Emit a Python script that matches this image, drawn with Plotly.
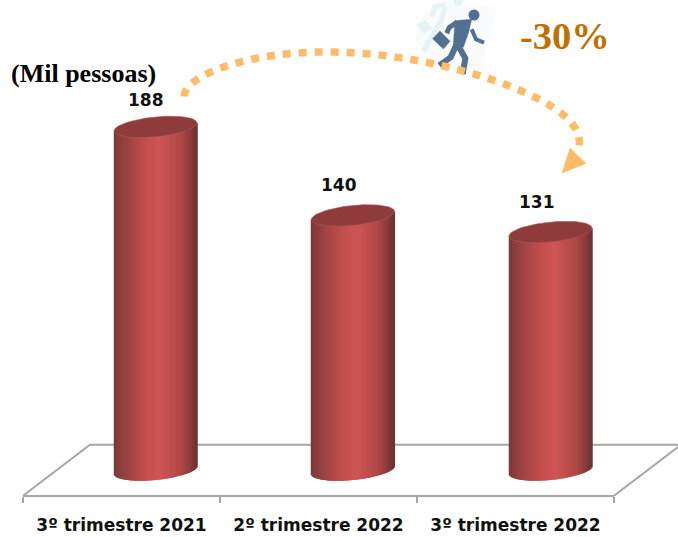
import numpy as np
import plotly.graph_objects as go

categories = ["3º trimestre 2021", "2º trimestre 2022", "3º trimestre 2022"]
values = [188, 140, 131]
unit_label = "(Mil pessoas)"
change_label = "-30%"

W, H = 678, 537
RED_STOPS = [(0.0, (122, 56, 56)), (0.12, (150, 64, 64)), (0.38, (194, 78, 78)), (0.55, (206, 85, 85)),
             (0.8, (178, 72, 72)), (0.92, (140, 60, 60)), (1.0, (104, 50, 50))]
LABEL_DX = [-10, -14, -14]
LABEL_DY = [27, 30, 30]


def px(x):
    return x / W


def py(y):
    return 1 - y / H


def path(points, close=False):
    s = "M " + " L ".join(f"{px(x):.5f},{py(y):.5f}" for x, y in points)
    return s + (" Z" if close else "")


def red(t):
    ts = [s[0] for s in RED_STOPS]
    c = [np.interp(t, ts, [s[1][k] for s in RED_STOPS]) for k in range(3)]
    return f"rgb({c[0]:.0f},{c[1]:.0f},{c[2]:.0f})"


PX_PER_UNIT = 1.844
ZERO_PX = 473.6
BAR_WIDTH = 0.42
STRIPS = 83
MINOR = 10.0 / PX_PER_UNIT
SHEAR = 4.0 / PX_PER_UNIT
FOOT = 3.6 / PX_PER_UNIT

fig = go.Figure()

# cylinder bodies: narrow overlaid bars, shaded across the width
step = BAR_WIDTH / STRIPS
for i in range(STRIPS):
    left = -BAR_WIDTH / 2 + i * step
    u = (i + 0.5) / STRIPS * 2 - 1
    base = FOOT - MINOR * np.sqrt(1 - u * u) + SHEAR * u
    tops = [v + SHEAR * u for v in values]
    fig.add_trace(go.Bar(
        x=[0, 1, 2], y=[t - base for t in tops], base=base,
        width=step * 1.6, offset=left,
        marker=dict(color=red((i + 0.5) / STRIPS), line=dict(width=0)),
        xaxis="x2", yaxis="y", showlegend=False, hoverinfo="skip"))

# cylinder tops
theta = np.linspace(0, 2 * np.pi, 80)
for idx, v in enumerate(values):
    fig.add_trace(go.Scatter(
        x=idx + BAR_WIDTH / 2 * np.cos(theta),
        y=v + MINOR * np.sin(theta) + SHEAR * np.cos(theta),
        mode="lines", fill="toself", fillcolor="#8f3b3b",
        line=dict(width=0.6, color="#a85a5a"),
        xaxis="x2", yaxis="y", showlegend=False, hoverinfo="skip"))

# invisible trace that keeps the category axis alive
fig.add_trace(go.Scatter(x=categories, y=values, mode="markers", marker=dict(opacity=0, size=1),
                         xaxis="x", yaxis="y", showlegend=False, hoverinfo="skip"))

annotations = [
    dict(x=i, y=v, xref="x2", yref="y", text=str(v), showarrow=False,
         xshift=LABEL_DX[i], yshift=LABEL_DY[i], xanchor="center", yanchor="middle",
         font=dict(family="DejaVu Sans", size=17, color="#111111", weight="bold"))
    for i, v in enumerate(values)
]
annotations += [
    dict(x=px(83), y=py(73), xref="paper", yref="paper", text=unit_label, showarrow=False,
         xanchor="center", yanchor="middle",
         font=dict(family="Liberation Serif", size=26, color="#000000", weight="bold")),
    dict(x=px(565), y=py(36), xref="paper", yref="paper", text=change_label, showarrow=False,
         xanchor="center", yanchor="middle",
         font=dict(family="Liberation Serif", size=38.5, color="#C07000", weight="bold")),
]

GREY = "#a6a6a6"
shapes = [
    dict(type="path", path=path([(23, 495.7), (90, 444.8), (678, 444.8)]), xref="paper", yref="paper",
         line=dict(color=GREY, width=2), layer="below"),
    dict(type="path", path=path([(614, 495.7), (678, 447)]), xref="paper", yref="paper",
         line=dict(color=GREY, width=2), layer="below"),
]

# runner icon
BLUE = "#52708f"
PALE = "#e4f3f6"


def z(pts):
    return [(400 + x / 3, y / 3) for x, y in pts]


def stroke(pts, color, width):
    return dict(type="path", path=path(z(pts)), xref="paper", yref="paper",
                line=dict(color=color, width=width), fillcolor="rgba(0,0,0,0)")


def solid(pts, color):
    return dict(type="path", path=path(z(pts), True), xref="paper", yref="paper",
                line=dict(color=color, width=0.5), fillcolor=color)


def disc(cx, cy, r, color):
    x, y = 400 + cx / 3, cy / 3
    return dict(type="circle", x0=px(x - r), x1=px(x + r), y0=py(y + r), y1=py(y - r),
                xref="paper", yref="paper", fillcolor=color, line=dict(width=0))


shapes += [
    solid([(50, 70), (120, 0), (290, 25), (240, 210), (190, 235), (50, 130)], "#fafbfc"),
    disc(175, 3, 5, PALE),
    stroke([(135, 15), (105, 20), (95, 50)], PALE, 5),
    stroke([(135, 20), (125, 60), (100, 100), (70, 155)], PALE, 5),
    solid([(50, 75), (75, 60), (95, 85), (72, 100)], PALE),
    disc(222, 45, 5.5, BLUE),
    solid([(165, 62), (215, 58), (205, 100), (190, 142), (160, 136)], BLUE),
    stroke([(172, 66), (148, 82), (140, 100)], BLUE, 5),
    stroke([(215, 88), (228, 118), (252, 128)], BLUE, 4),
    stroke([(170, 132), (152, 172), (118, 196)], BLUE, 6),
    stroke([(175, 138), (196, 175), (188, 222)], BLUE, 6),
    solid([(98, 116), (120, 93), (150, 124), (130, 147)], BLUE),
]

# decline arc and arrow head
ORANGE = "#FFBB66"
arc = [(184, 96), (196, 82), (225, 66), (255, 57), (304, 53), (352, 54), (401, 58), (446, 66), (493, 80),
       (537, 97), (563, 116), (574, 128), (580, 146)]
t = np.arange(len(arc))
tt = np.linspace(0, len(arc) - 1, 160)
ax, ay = zip(*arc)
# smooth the hand-placed guide points
cx = np.polyval(np.polyfit(t, ax, 6), tt)
cy = np.polyval(np.polyfit(t, ay, 6), tt)
shapes += [
    dict(type="path", path=path(list(zip(cx, cy))), xref="paper", yref="paper",
         line=dict(color=ORANGE, width=7.5, dash="8px,8px"), fillcolor="rgba(0,0,0,0)"),
    dict(type="path", path=path([(570, 148), (586, 163.5), (562, 173)], True), xref="paper", yref="paper",
         line=dict(color=ORANGE, width=0.5), fillcolor=ORANGE),
]

fig.update_layout(
    width=W, height=H, margin=dict(l=0, r=0, t=0, b=0, autoexpand=False), autosize=False,
    paper_bgcolor="white", plot_bgcolor="rgba(0,0,0,0)", barmode="overlay", showlegend=False,
    shapes=shapes, annotations=annotations,
    xaxis=dict(type="category", categoryorder="array", categoryarray=categories, range=[-0.5, 2.5],
               domain=[px(23), px(614)], anchor="free", position=py(495.7), automargin=False,
               showline=True, linecolor=GREY, linewidth=2, ticks="outside", tickson="boundaries",
               tickcolor=GREY, ticklen=6, tickwidth=2, showgrid=False, zeroline=False,
               tickfont=dict(family="DejaVu Sans", size=17, color="#111111", weight="bold"),
               ticklabelstandoff=14),
    xaxis2=dict(domain=[px(56.75), px(649.25)], range=[-0.5, 2.5], visible=False, anchor="y"),
    yaxis=dict(domain=[0, 1], range=[(ZERO_PX - H) / PX_PER_UNIT, ZERO_PX / PX_PER_UNIT], visible=False),
)

fig.write_html("out.html", config=dict(displayModeBar=False),
               post_script="document.body.style.margin='0';")
